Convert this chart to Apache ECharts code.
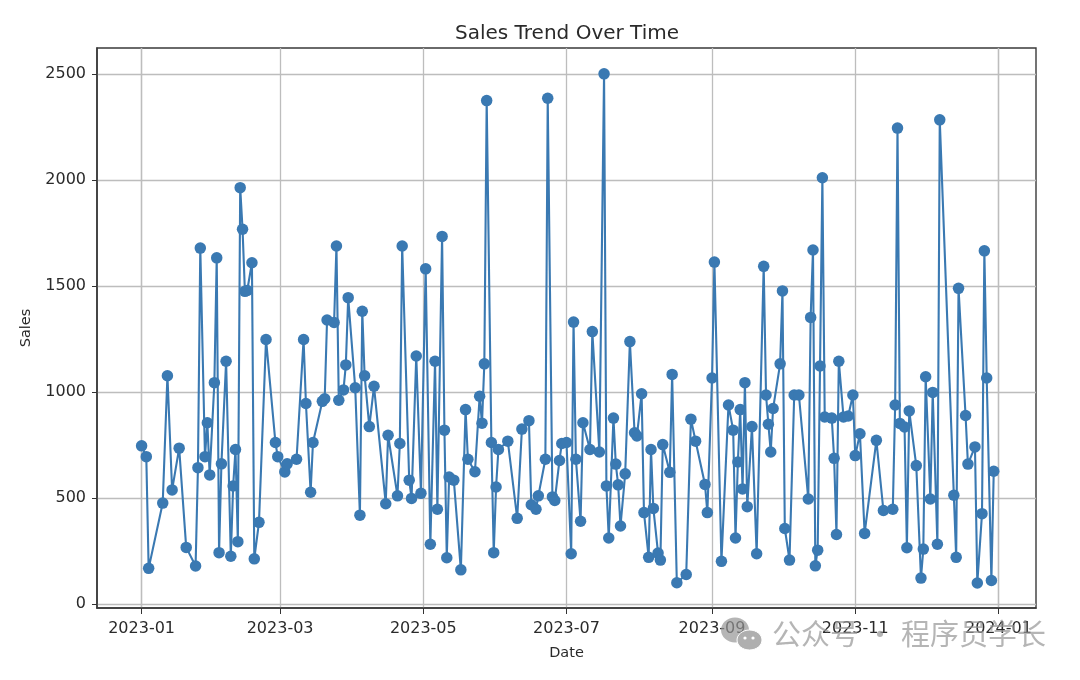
<!DOCTYPE html>
<html>
<head>
<meta charset="utf-8">
<title>Sales Trend Over Time</title>
<script src="https://cdn.jsdelivr.net/npm/echarts@6/dist/echarts.min.js"></script>
<style>
  html, body { margin: 0; padding: 0; background: #fff; }
  #main { width: 1080px; height: 680px; }
</style>
</head>
<body>
<div id="main"></div>
<script>
// values
const dates = [
  '2023-01-01','2023-01-03','2023-01-04','2023-01-10','2023-01-12','2023-01-14','2023-01-17','2023-01-20','2023-01-24','2023-01-25',
  '2023-01-26','2023-01-28','2023-01-29','2023-01-30','2023-02-01','2023-02-02','2023-02-03','2023-02-04','2023-02-06','2023-02-08',
  '2023-02-09','2023-02-10','2023-02-11','2023-02-12','2023-02-13','2023-02-14','2023-02-15','2023-02-17','2023-02-18','2023-02-20',
  '2023-02-23','2023-02-27','2023-02-28','2023-03-03','2023-03-04','2023-03-08','2023-03-11','2023-03-12','2023-03-14','2023-03-15',
  '2023-03-19','2023-03-20','2023-03-21','2023-03-24','2023-03-25','2023-03-26','2023-03-28','2023-03-29','2023-03-30','2023-04-02',
  '2023-04-04','2023-04-05','2023-04-06','2023-04-08','2023-04-10','2023-04-15','2023-04-16','2023-04-20','2023-04-21','2023-04-22',
  '2023-04-25','2023-04-26','2023-04-28','2023-04-30','2023-05-02','2023-05-04','2023-05-06','2023-05-07','2023-05-09','2023-05-10',
  '2023-05-11','2023-05-12','2023-05-14','2023-05-17','2023-05-19','2023-05-20','2023-05-23','2023-05-25','2023-05-26','2023-05-27',
  '2023-05-28','2023-05-30','2023-05-31','2023-06-01','2023-06-02','2023-06-06','2023-06-10','2023-06-12','2023-06-15','2023-06-16',
  '2023-06-18','2023-06-19','2023-06-22','2023-06-23','2023-06-25','2023-06-26','2023-06-28','2023-06-29','2023-07-01','2023-07-03',
  '2023-07-04','2023-07-05','2023-07-07','2023-07-08','2023-07-11','2023-07-12','2023-07-15','2023-07-17','2023-07-18','2023-07-19',
  '2023-07-21','2023-07-22','2023-07-23','2023-07-24','2023-07-26','2023-07-28','2023-07-30','2023-07-31','2023-08-02','2023-08-03',
  '2023-08-05','2023-08-06','2023-08-07','2023-08-09','2023-08-10','2023-08-11','2023-08-14','2023-08-15','2023-08-17','2023-08-21',
  '2023-08-23','2023-08-25','2023-08-29','2023-08-30','2023-09-01','2023-09-02','2023-09-05','2023-09-08','2023-09-10','2023-09-11',
  '2023-09-12','2023-09-13','2023-09-14','2023-09-15','2023-09-16','2023-09-18','2023-09-20','2023-09-23','2023-09-24','2023-09-25',
  '2023-09-26','2023-09-27','2023-09-30','2023-10-01','2023-10-02','2023-10-04','2023-10-06','2023-10-08','2023-10-12','2023-10-13',
  '2023-10-14','2023-10-15','2023-10-16','2023-10-17','2023-10-18','2023-10-19','2023-10-22','2023-10-23','2023-10-24','2023-10-25',
  '2023-10-27','2023-10-29','2023-10-31','2023-11-01','2023-11-03','2023-11-05','2023-11-10','2023-11-13','2023-11-17','2023-11-18',
  '2023-11-19','2023-11-20','2023-11-22','2023-11-23','2023-11-24','2023-11-27','2023-11-29','2023-11-30','2023-12-01','2023-12-03',
  '2023-12-04','2023-12-06','2023-12-07','2023-12-13','2023-12-14','2023-12-15','2023-12-18','2023-12-19','2023-12-22','2023-12-23',
  '2023-12-25','2023-12-26','2023-12-27','2023-12-29','2023-12-30'
];
const sales = [
  745,694,167,475,1076,537,734,266,178,642,
  1678,694,854,608,1043,1632,241,660,1144,224,
  556,728,293,1963,1767,1474,1478,1609,212,384,
  1247,761,694,622,660,682,1247,945,526,761,
  955,967,1339,1327,1688,960,1009,1127,1444,1019,
  418,1380,1076,836,1026,472,795,509,756,1688,
  583,497,1169,521,1580,281,1144,446,1733,819,
  217,598,583,160,916,682,623,979,852,1132,
  2374,761,241,551,728,767,403,824,864,467,
  446,509,682,2385,504,487,676,756,761,236,
  1329,682,389,854,728,1284,716,2500,556,310,
  876,659,561,367,613,1237,807,792,991,430,
  219,728,450,239,206,751,620,1082,99,138,
  871,767,563,430,1065,1612,200,938,819,310,
  669,916,542,1043,458,836,236,1592,985,847,
  716,921,1132,1476,355,206,985,985,494,1351,
  1669,179,253,1122,2010,881,876,686,327,1144,
  881,886,985,699,802,332,771,440,446,938,
  2244,851,834,264,910,652,121,258,1071,494,
  997,281,2283,512,219,1488,888,659,740,98,
  425,1665,1065,110,625
];
const xTicks = ['2023-01-01','2023-03-01','2023-05-01','2023-07-01','2023-09-01','2023-11-01','2024-01-01'];
const yTicks = [0, 500, 1000, 1500, 2000, 2500];

const font = '"DejaVu Sans", sans-serif';
const lineColor = '#3a79b2';
const textColor = '#2a2a2a';
const markColor = 'rgba(150,150,150,0.7)';

var chart = echarts.init(document.getElementById('main'), null, { renderer: 'canvas' });

chart.setOption({
  animation: false,
  backgroundColor: '#fff',
  title: {
    text: 'Sales Trend Over Time',
    left: 562,
    top: 19,
    textAlign: 'center',
    textStyle: { fontFamily: font, fontSize: 20, fontWeight: 'normal', color: textColor }
  },
  grid: {
    left: 97, right: 44, top: 48, bottom: 72,
    show: true,
    borderColor: '#3a3a3a',
    borderWidth: 1.4
  },
  xAxis: {
    type: 'time',
    min: '2022-12-13',
    max: '2024-01-17',
    name: 'Date',
    nameLocation: 'middle',
    nameGap: 38,
    nameTextStyle: { fontFamily: font, fontSize: 14.5, color: textColor },
    axisLine: { onZero: false, lineStyle: { color: '#3a3a3a', width: 1.6 } },
    axisTick: { show: true, length: 6, customValues: xTicks, lineStyle: { color: '#333', width: 1 } },
    axisLabel: {
      customValues: xTicks,
      formatter: '{yyyy}-{MM}',
      fontFamily: font, fontSize: 16, color: textColor, margin: 13,
      hideOverlap: false,
      showMinLabel: true, showMaxLabel: true
    },
    minorTick: { show: false },
    splitLine: { show: true, lineStyle: { color: '#bdbdbd', width: 1.3 } }
  },
  yAxis: {
    type: 'value',
    min: -20,
    max: 2622,
    name: 'Sales',
    nameLocation: 'middle',
    nameGap: 63,
    nameTextStyle: { fontFamily: font, fontSize: 14.5, color: textColor },
    axisLine: { show: true, onZero: false, lineStyle: { color: '#3a3a3a', width: 1.6 } },
    axisTick: { show: true, length: 5, customValues: yTicks, lineStyle: { color: '#333', width: 1 } },
    axisLabel: {
      customValues: yTicks,
      fontFamily: font, fontSize: 16, color: textColor, margin: 11,
      padding: [3, 0, 0, 0],
      formatter: function (v) { return String(v); }
    },
    splitLine: { show: true, lineStyle: { color: '#bdbdbd', width: 1.3 } }
  },
  series: [{
    type: 'line',
    data: dates.map(function (d, i) { return [d, sales[i]]; }),
    showAllSymbol: true,
    symbol: 'circle',
    symbolSize: 11.5,
    clip: false,
    lineStyle: { color: lineColor, width: 2.1 },
    itemStyle: { color: lineColor }
  }],
  // the watermark sitting over the lower right corner
  graphic: [
    { type: 'ellipse', shape: { cx: 735, cy: 630, rx: 14, ry: 12.5 }, style: { fill: markColor }, z: 100 },
    { type: 'ellipse', shape: { cx: 749.5, cy: 640, rx: 12.5, ry: 10 }, style: { fill: 'rgba(175,175,175,1)', stroke: '#fff', lineWidth: 1 }, z: 101 },
    { type: 'circle', shape: { cx: 745, cy: 638, r: 1.6 }, style: { fill: '#fff' }, z: 102 },
    { type: 'circle', shape: { cx: 753, cy: 638, r: 1.6 }, style: { fill: '#fff' }, z: 102 },
    {
      type: 'text', left: 772, top: 619, z: 100,
      style: {
        text: '公众号 · 程序员学长',
        font: '29px "Noto Sans CJK SC"',
        fill: 'rgba(150,150,150,0.7)'
      }
    }
  ]
});
</script>
</body>
</html>
